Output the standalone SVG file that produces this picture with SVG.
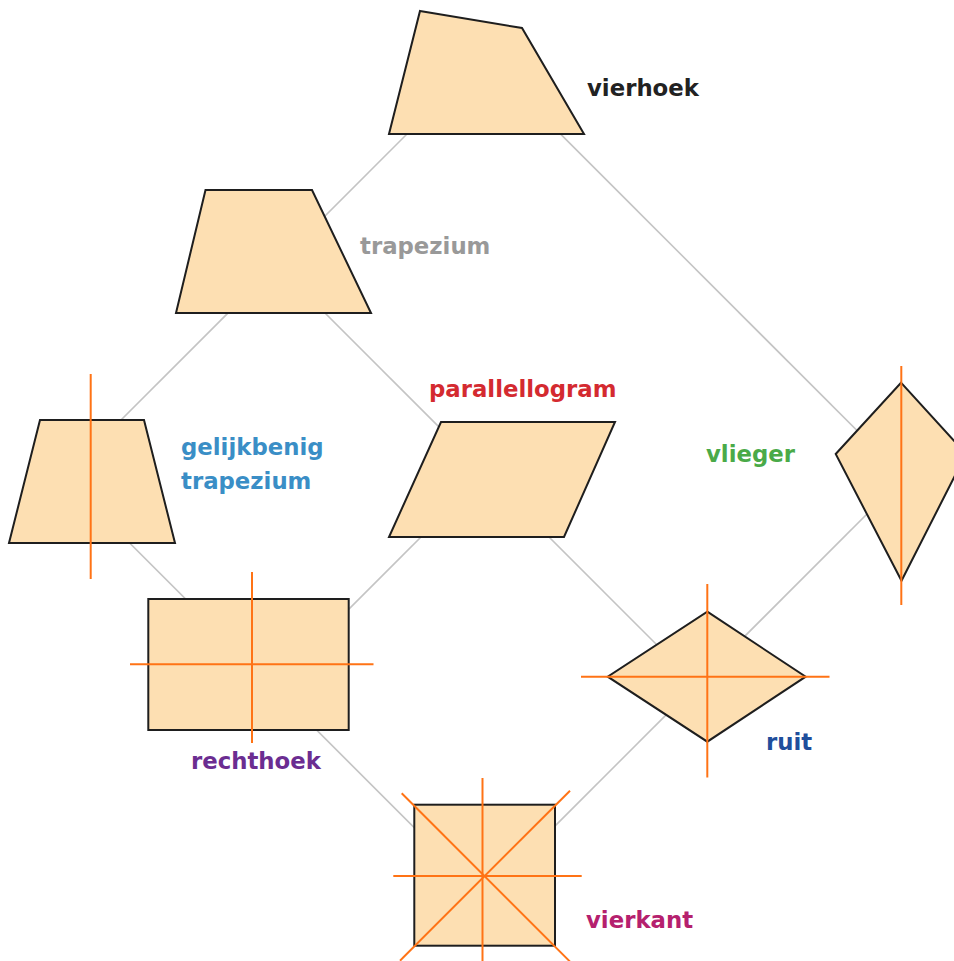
<svg xmlns="http://www.w3.org/2000/svg" width="954" height="961" viewBox="0 0 954 961">
  <style>
    .shape { fill: #fddfb2; stroke: #1e1e1e; stroke-width: 2; stroke-linejoin: miter; }
    .axis { stroke: #ff7315; stroke-width: 2; fill: none; }
    .conn { stroke: #c4c4c4; stroke-width: 1.6; fill: none; }
    .lbl { font-family: "DejaVu Sans", "Liberation Sans", sans-serif; font-weight: bold; font-size: 22.8px; }
  </style>
  <rect x="0" y="0" width="954" height="961" fill="#ffffff"/>
  <g id="connectors">
    <line class="conn" x1="450" y1="91" x2="60" y2="481"/>
    <line class="conn" x1="500" y1="73.5" x2="901" y2="474.5"/>
    <line class="conn" x1="270" y1="258" x2="707" y2="695"/>
    <line class="conn" x1="90" y1="503.4" x2="484" y2="897.4"/>
    <line class="conn" x1="500" y1="458" x2="250" y2="708"/>
    <line class="conn" x1="901" y1="480" x2="484" y2="897"/>
  </g>
  <g id="vierhoek">
    <polygon class="shape" points="420,11 522,28 584,134 389,134"/>
    <text class="lbl" x="587" y="96" fill="#222222">vierhoek</text>
  </g>
  <g id="trapezium">
    <polygon class="shape" points="205.5,190 312,190 371,313 176,313"/>
    <text class="lbl" x="360" y="254" fill="#999999">trapezium</text>
  </g>
  <g id="gelijkbenig-trapezium">
    <polygon class="shape" points="40,420 144,420 175,543 9,543"/>
    <line class="axis" x1="90.7" y1="374" x2="90.7" y2="579"/>
    <text class="lbl" x="181" y="455" fill="#3a8ec6">gelijkbenig</text>
    <text class="lbl" x="181" y="489" fill="#3a8ec6">trapezium</text>
  </g>
  <g id="parallellogram">
    <polygon class="shape" points="441,422 615,422 564,537 389,537"/>
    <text class="lbl" x="429" y="397" fill="#d42a30">parallellogram</text>
  </g>
  <g id="vlieger">
    <polygon class="shape" points="901,382.7 966,454 901.5,580.7 835.7,454"/>
    <line class="axis" x1="901.3" y1="366" x2="901.3" y2="605"/>
    <text class="lbl" x="706" y="462" fill="#4aaa48">vlieger</text>
  </g>
  <g id="rechthoek">
    <rect class="shape" x="148.3" y="599" width="200.4" height="131"/>
    <line class="axis" x1="252" y1="572" x2="252" y2="743"/>
    <line class="axis" x1="130" y1="664.3" x2="373.5" y2="664.3"/>
    <text class="lbl" x="191" y="769" fill="#6b2d91">rechthoek</text>
  </g>
  <g id="ruit">
    <polygon class="shape" points="707.3,611.7 805.7,676.7 707.3,741.7 607.7,676.7"/>
    <line class="axis" x1="707.3" y1="584" x2="707.3" y2="777.5"/>
    <line class="axis" x1="581" y1="676.7" x2="829.5" y2="676.7"/>
    <text class="lbl" x="766" y="750" fill="#1f4e9c">ruit</text>
  </g>
  <g id="vierkant">
    <rect class="shape" x="414.3" y="804.7" width="140.7" height="141"/>
    <line class="axis" x1="482.5" y1="778" x2="482.5" y2="961"/>
    <line class="axis" x1="393.3" y1="876" x2="581.7" y2="876"/>
    <line class="axis" x1="401.7" y1="793.3" x2="570" y2="961.6"/>
    <line class="axis" x1="570" y1="790.7" x2="400" y2="960.7"/>
    <text class="lbl" x="586" y="928" fill="#b5206e">vierkant</text>
  </g>
</svg>
